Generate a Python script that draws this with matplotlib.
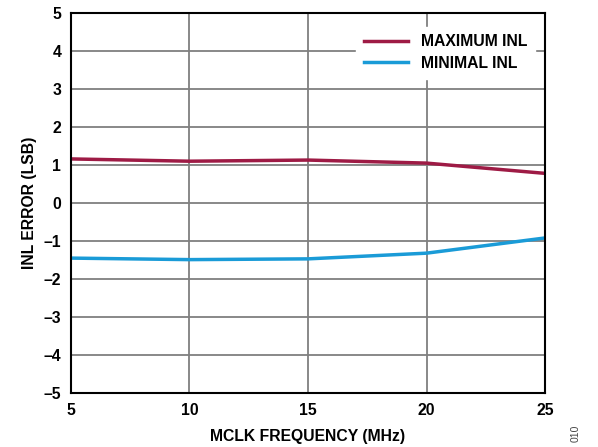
import matplotlib
matplotlib.use('Agg')
import matplotlib.pyplot as plt

plt.rcParams['font.family'] = ['Liberation Sans', 'DejaVu Sans']
plt.rcParams['font.weight'] = 'bold'

freq = [5, 10, 15, 20, 25]
max_inl = [1.16, 1.10, 1.13, 1.05, 0.78]
min_inl = [-1.45, -1.49, -1.47, -1.32, -0.92]

fig = plt.figure(figsize=(5.98, 4.47), dpi=100)
ax = fig.add_axes([0.1187, 0.1208, 0.7927, 0.8501])

ax.plot(freq, max_inl, color='#9E1B45', lw=2.5, label='MAXIMUM INL')
ax.plot(freq, min_inl, color='#1A9BD7', lw=2.5, label='MINIMAL INL')

ax.set_xlim(5, 25)
ax.set_ylim(-5, 5)
ax.set_xticks([5, 10, 15, 20, 25])
ax.set_yticks(range(-5, 6))
ax.set_yticklabels([str(v).replace('-', '\u2013') for v in range(-5, 6)])
ax.grid(True, color='#7f7f7f', lw=1.3)
ax.set_axisbelow(True)
ax.tick_params(length=0, labelsize=11.3, pad=7)
for s in ax.spines.values():
    s.set_linewidth(1.5)

ax.set_xlabel('MCLK FREQUENCY (MHz)', fontsize=11.3, fontweight='bold', labelpad=8)
ax.set_ylabel('INL ERROR (LSB)', fontsize=11.3, fontweight='bold', labelpad=5)

leg = ax.legend(loc='upper right', bbox_to_anchor=(0.995, 0.985), fontsize=11.3,
                frameon=True, fancybox=False, handlelength=2.8, borderpad=0.5,
                labelspacing=0.4)
leg.get_frame().set_edgecolor('white')
leg.get_frame().set_facecolor('white')
leg.get_frame().set_alpha(1)

fig.text(0.962, 0.012, '010', rotation=90, fontsize=7.5, color='#444444',
         fontweight='normal', ha='center', va='bottom')

fig.savefig('out.png', dpi=100)
